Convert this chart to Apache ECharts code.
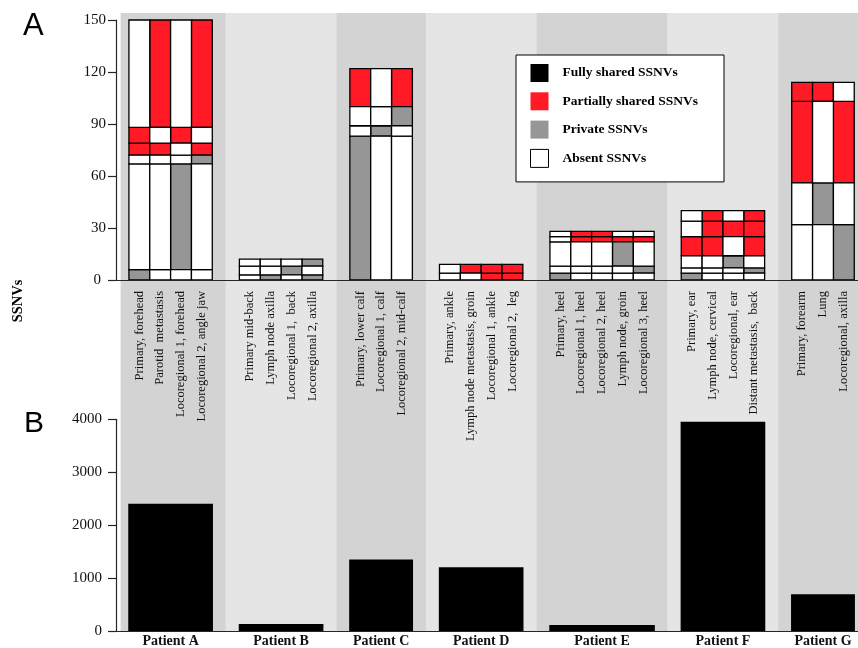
<!DOCTYPE html>
<html>
<head>
<meta charset="utf-8">
<script src="https://cdn.jsdelivr.net/npm/echarts@6/dist/echarts.min.js"></script>
<style>
  html, body { margin: 0; padding: 0; background: #ffffff; }
  #chart { width: 858px; height: 648px; }
</style>
</head>
<body>
<div id="chart"></div>
<script>
// ---------------------------------------------------------------------------
// Patients and their tumour samples
// ---------------------------------------------------------------------------
const patients = ['Patient A', 'Patient B', 'Patient C', 'Patient D', 'Patient E', 'Patient F', 'Patient G'];

const samplesA = ['Primary, forehead', 'Parotid  metastasis', 'Locoregional 1, forehead', 'Locoregional 2, angle jaw'];
const samplesB = ['Primary mid-back', 'Lymph node axilla', 'Locoregional 1,  back', 'Locoregional 2, axilla'];
const samplesC = ['Primary, lower calf', 'Locoregional 1, calf', 'Locoregional 2, mid-calf'];
const samplesD = ['Primary, ankle', 'Lymph node metastasis, groin', 'Locoregional 1, ankle', 'Locoregional 2,  leg'];
const samplesE = ['Primary, heel', 'Locoregional 1, heel', 'Locoregional 2, heel', 'Lymph node, groin', 'Locoregional 3, heel'];
const samplesF = ['Primary, ear', 'Lymph node, cervical', 'Locoregional, ear', 'Distant metastasis,  back'];
const samplesG = ['Primary, forearm', 'Lung', 'Locoregional, axilla'];

// SSNV groups of each patient, stacked from the bottom: number of SSNVs in the group
const sizesA = [6, 61, 5, 7, 9, 62];
const sizesB = [3, 5, 4];
const sizesC = [83, 6, 11, 22];
const sizesD = [4, 5];
const sizesE = [4, 4, 14, 3, 3];
const sizesF = [4, 3, 7, 11, 9, 6];
const sizesG = [32, 24, 47, 11];

// State of each group in each sample (one letter per sample, in sample order):
// p = private, s = partially shared, a = absent
const statesA = ['paaa', 'aapa', 'aaap', 'ssas', 'sasa', 'asas'];
const statesB = ['apap', 'aapa', 'aaap'];
const statesC = ['paa', 'apa', 'aap', 'sas'];
const statesD = ['aass', 'asss'];
const statesE = ['paaaa', 'aaaap', 'aaapa', 'assss', 'assaa'];
const statesF = ['paaa', 'aaap', 'aapa', 'ssas', 'asss', 'asas'];
const statesG = ['aap', 'apa', 'sas', 'ssa'];

// SSNVs shared by every sample of a patient
const fullyShared = [2390, 120, 1340, 1190, 100, 3940, 680];

// Axis ranges and tick steps
const maxA = 150, stepA = 30;
const maxB = 4000, stepB = 1000;

// ---------------------------------------------------------------------------
// Horizontal layout, in bar widths (0 = left edge of the plot)
// ---------------------------------------------------------------------------
const groups = [
  { samples: samplesA, sizes: sizesA, states: statesA },
  { samples: samplesB, sizes: sizesB, states: statesB },
  { samples: samplesC, sizes: sizesC, states: statesC },
  { samples: samplesD, sizes: sizesD, states: statesD },
  { samples: samplesE, sizes: sizesE, states: statesE },
  { samples: samplesF, sizes: sizesF, states: statesF },
  { samples: samplesG, sizes: sizesG, states: statesG }
];
const LEFT_PAD = 0.62;   // from the value axis to the first bar
const BAND_PAD = 0.4;    // band margin before the first bar
const GROUP_GAP = 1.3;   // space between two patients
const RIGHT_PAD = 0.18;  // after the last bar

let cursor = LEFT_PAD;
const spans = groups.map(g => {
  const start = cursor;
  cursor += g.samples.length + GROUP_GAP;
  return { start: start, end: start + g.samples.length };
});
const X_MIN = 0;
const X_MAX = spans[spans.length - 1].end + RIGHT_PAD;

// Alternating background bands behind each patient
const bandData = spans.map((s, k) => [
  k === 0 ? s.start - BAND_PAD : s.start - GROUP_GAP / 2,
  k === spans.length - 1 ? X_MAX : s.end + GROUP_GAP / 2,
  k % 2
]);

// Stacked SSNV rectangles, split by state
const stateNames = { s: 'Partially shared SSNVs', p: 'Private SSNVs', a: 'Absent SSNVs' };
const rectsByState = { s: [], p: [], a: [] };
const sampleLabels = new Map();
const sampleCenters = [];
groups.forEach((g, k) => {
  g.samples.forEach((name, i) => {
    const x0 = spans[k].start + i;
    const c = x0 + 0.5;
    sampleCenters.push(c);
    sampleLabels.set(c.toFixed(3), name);
    let base = 0;
    g.sizes.forEach((size, r) => {
      const st = g.states[r][i];
      rectsByState[st].push([x0, x0 + 1, base, base + size]);
      base += size;
    });
  });
});

// Fully shared bars span the whole patient group
const fullData = spans.map((s, k) => [s.start, s.end, 0, fullyShared[k]]);
const patientCenters = spans.map(s => (s.start + s.end) / 2);
const patientLabels = new Map(patientCenters.map((c, k) => [c.toFixed(3), patients[k]]));

// ---------------------------------------------------------------------------
// Chart
// ---------------------------------------------------------------------------
const SERIF = 'Liberation Serif';
const INK = '#111111';
const axisLine = () => ({ show: true, lineStyle: { color: '#262626', width: 1.2 } });
const yTick = () => ({ show: true, length: 8, lineStyle: { color: '#262626', width: 1.2 } });

function rectItem(params, api) {
  const p0 = api.coord([api.value(0), api.value(2)]);
  const p1 = api.coord([api.value(1), api.value(3)]);
  return {
    type: 'rect',
    shape: { x: p0[0], y: p1[1], width: p1[0] - p0[0], height: p0[1] - p1[1] },
    style: { fill: api.visual('color'), stroke: '#000000', lineWidth: 1.3 }
  };
}

function bandItem(params, api) {
  const p0 = api.coord([api.value(0), 0]);
  const p1 = api.coord([api.value(1), 1]);
  return {
    type: 'rect',
    shape: { x: p0[0], y: p1[1], width: p1[0] - p0[0], height: p0[1] - p1[1] },
    style: { fill: api.value(2) === 0 ? '#d3d3d3' : '#e5e5e5' }
  };
}

const stateColors = { s: '#ff1a25', p: '#969696', a: '#ffffff' };

const chart = echarts.init(document.getElementById('chart'), null, { renderer: 'canvas' });

chart.setOption({
  animation: false,
  backgroundColor: '#ffffff',
  grid: [
    { left: 116, right: 0, top: 13, bottom: 16.5 },      // bands
    { left: 116, right: 0, top: 20, height: 260 },       // panel A
    { left: 116, right: 0, top: 419.3, height: 212.2 }   // panel B
  ],
  xAxis: [
    { type: 'value', gridIndex: 0, min: X_MIN, max: X_MAX, show: false },
    {
      type: 'value', gridIndex: 1, min: X_MIN, max: X_MAX, z: 5,
      axisLine: axisLine(), axisTick: { show: false }, splitLine: { show: false },
      axisLabel: {
        customValues: sampleCenters,
        formatter: v => sampleLabels.get(Number(v).toFixed(3)) || '',
        rotate: 90, margin: 11, fontSize: 12.5, fontFamily: SERIF, color: INK
      }
    },
    {
      type: 'value', gridIndex: 2, min: X_MIN, max: X_MAX, z: 5,
      axisLine: axisLine(), axisTick: { show: false }, splitLine: { show: false },
      axisLabel: {
        customValues: patientCenters,
        formatter: v => patientLabels.get(Number(v).toFixed(3)) || '',
        margin: 3, fontSize: 14, fontWeight: 'bold', fontFamily: SERIF, color: INK
      }
    }
  ],
  yAxis: [
    { type: 'value', gridIndex: 0, min: 0, max: 1, show: false },
    {
      type: 'value', gridIndex: 1, min: 0, max: maxA, interval: stepA, z: 5,
      axisLine: axisLine(), axisTick: yTick(), splitLine: { show: false },
      axisLabel: {
        formatter: v => (v === 0 ? '{z|0}' : String(v)),
        margin: 10, fontSize: 15, fontFamily: SERIF, color: INK,
        rich: { z: { fontSize: 15, fontFamily: SERIF, color: INK, padding: [0, 5, 0, 0] } }
      }
    },
    {
      type: 'value', gridIndex: 2, min: 0, max: maxB, interval: stepB, z: 5,
      axisLine: axisLine(), axisTick: yTick(), splitLine: { show: false },
      axisLabel: {
        formatter: v => String(v),
        margin: 14, fontSize: 15, fontFamily: SERIF, color: INK
      }
    }
  ],
  legend: {
    orient: 'vertical', left: 516, top: 55, z: 10,
    backgroundColor: '#ffffff', borderColor: '#000000', borderWidth: 1,
    padding: [9, 26, 14, 14],
    itemWidth: 18, itemHeight: 18, itemGap: 10.3,
    icon: 'rect', selectedMode: false,
    textStyle: { fontFamily: SERIF, fontWeight: 'bold', fontSize: 13.5, color: '#000000', padding: [4, 0, 0, 9] },
    data: [
      { name: 'Fully shared SSNVs', itemStyle: { borderWidth: 0 } },
      { name: 'Partially shared SSNVs', itemStyle: { borderWidth: 0 } },
      { name: 'Private SSNVs', itemStyle: { borderWidth: 0 } },
      { name: 'Absent SSNVs', itemStyle: { borderColor: '#000000', borderWidth: 1 } }
    ]
  },
  graphic: [
    { type: 'text', left: 23, top: 11, z: 10,
      style: { text: 'A', fontFamily: 'Liberation Sans', fontSize: 31, fill: '#000000' } },
    { type: 'text', left: 24, top: 409, z: 10,
      style: { text: 'B', fontFamily: 'Liberation Sans', fontSize: 30, fill: '#000000' } },
    { type: 'text', x: 18, y: 301, rotation: Math.PI / 2, z: 10,
      style: { text: 'SSNVs', fontFamily: SERIF, fontWeight: 'bold', fontSize: 14.5, fill: '#000000',
               align: 'center', verticalAlign: 'middle' } }
  ],
  series: [
    {
      type: 'custom', name: 'bands', xAxisIndex: 0, yAxisIndex: 0, z: 1, silent: true,
      renderItem: bandItem, data: bandData, encode: { x: [0, 1], y: 2 }
    },
    ...['s', 'p', 'a'].map(st => ({
      type: 'custom', name: stateNames[st], xAxisIndex: 1, yAxisIndex: 1, z: 3,
      itemStyle: { color: stateColors[st], borderColor: '#000000' },
      renderItem: rectItem, data: rectsByState[st], encode: { x: [0, 1], y: [2, 3] }
    })),
    {
      type: 'custom', name: 'Fully shared SSNVs', xAxisIndex: 2, yAxisIndex: 2, z: 3,
      itemStyle: { color: '#000000' },
      renderItem: rectItem, data: fullData, encode: { x: [0, 1], y: [2, 3] }
    }
  ]
});
</script>
</body>
</html>
